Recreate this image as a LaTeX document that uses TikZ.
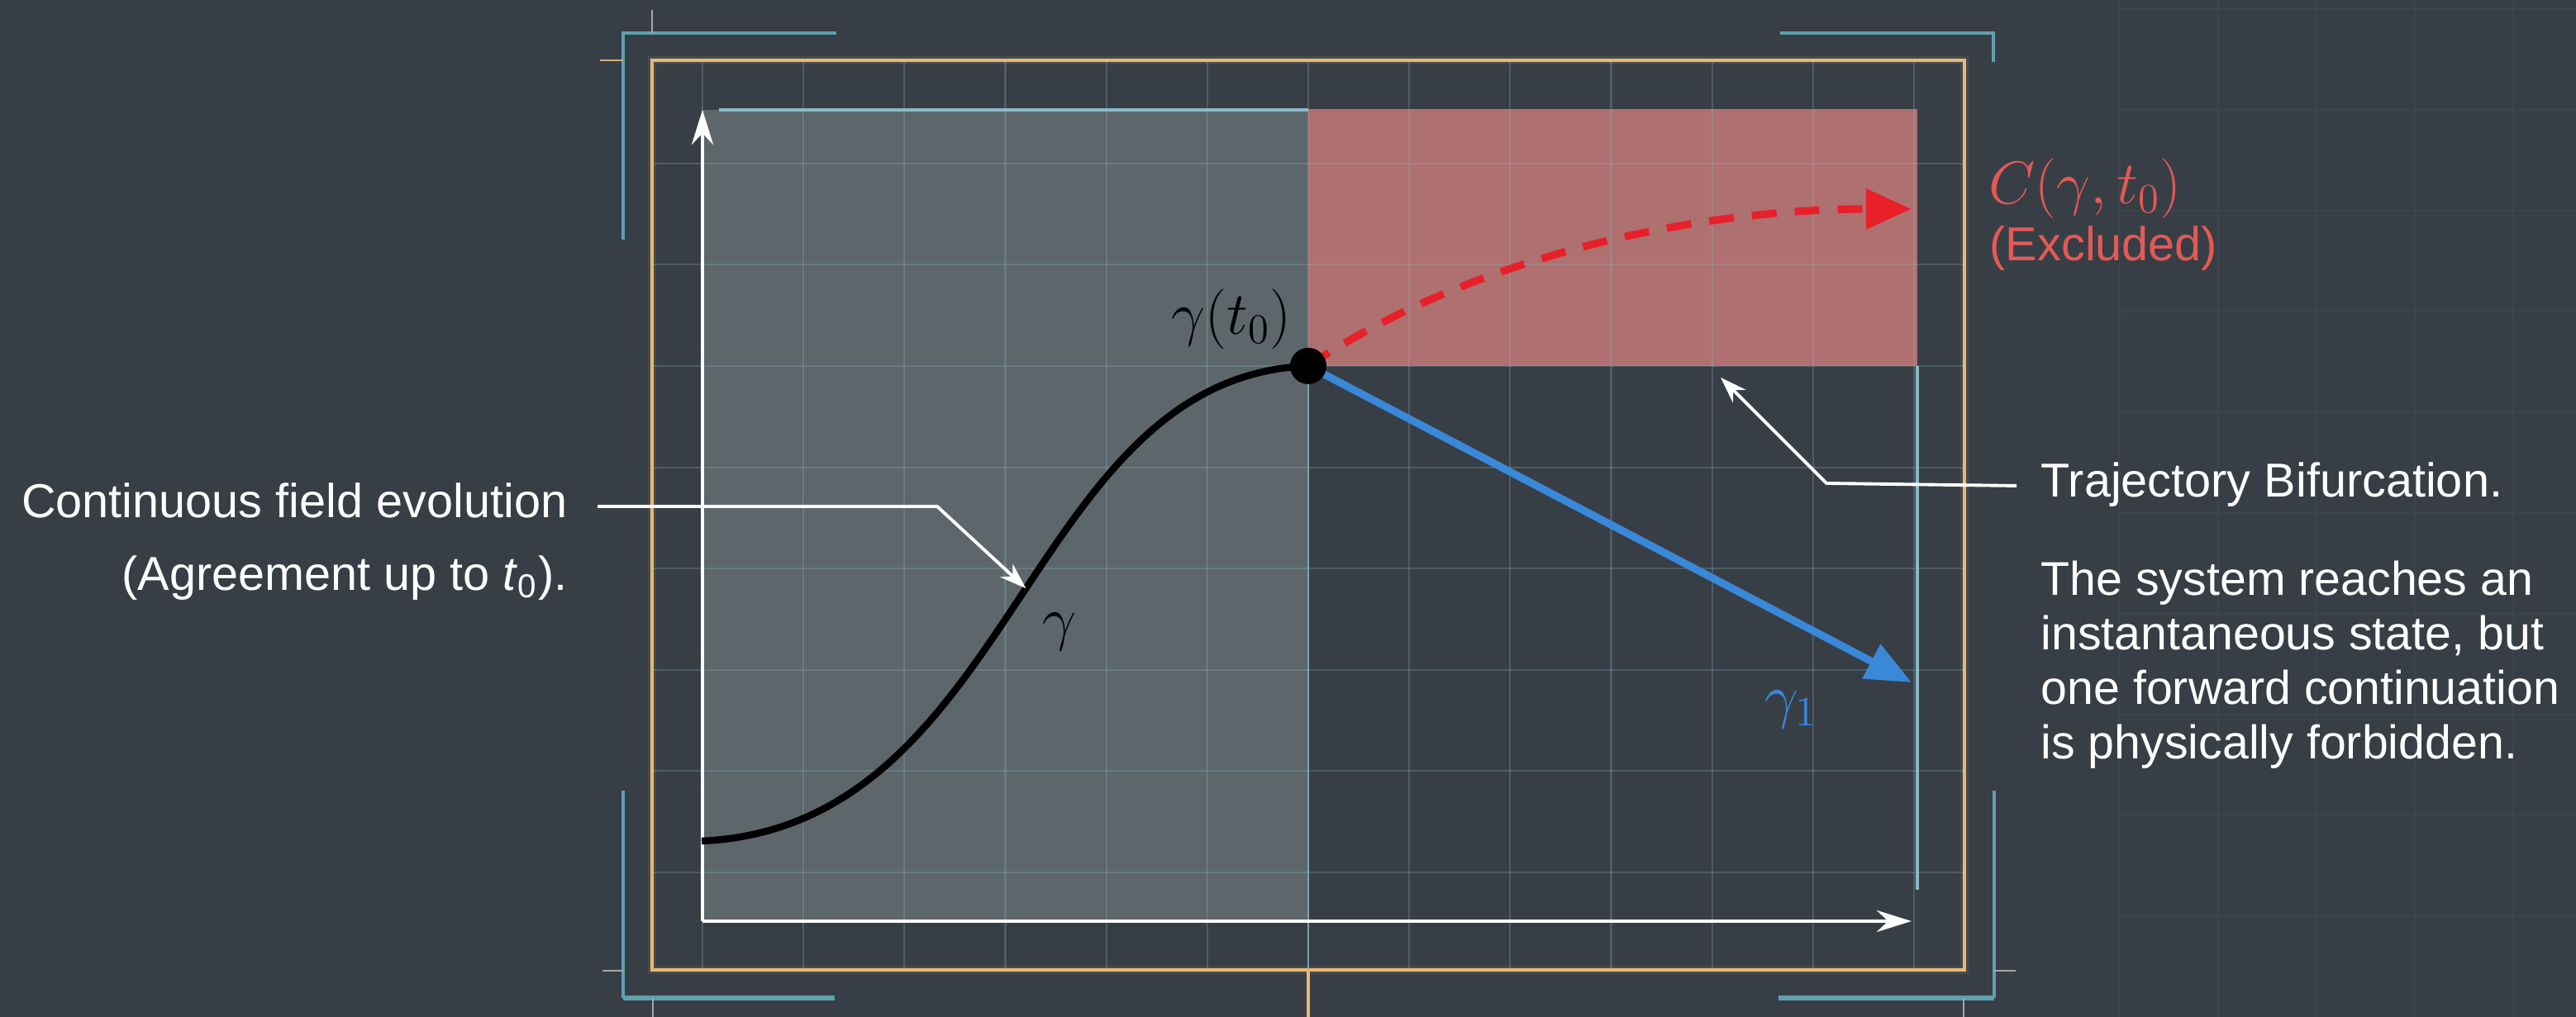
\documentclass[tikz,border=0pt]{standalone}
\usepackage{fontspec}
\setmainfont{Liberation Sans}
\usepackage{tikz}
\usetikzlibrary{arrows.meta,positioning,calc}

\definecolor{bgslate}{RGB}{56,62,70}
\definecolor{shadegray}{RGB}{92,102,107}
\definecolor{exclfill}{RGB}{175,112,112}
\definecolor{gridcyan}{RGB}{140,185,198}
\definecolor{bracketcyan}{RGB}{95,160,175}
\definecolor{frameorange}{RGB}{230,185,120}
\definecolor{dashred}{RGB}{232,32,42}
\definecolor{excltext}{RGB}{226,90,85}
\definecolor{gblue}{RGB}{58,136,216}

\newcommand{\notesize}{\fontsize{16.4}{25}\selectfont}

\begin{document}
\begin{tikzpicture}[>=Stealth,
  gridln/.style={draw=gridcyan,opacity=0.26,line width=0.6pt},
  bracket/.style={draw=bracketcyan,line width=1.1pt},
  tickmark/.style={draw=gray!70,line width=0.7pt},
  note/.style={text=white,font=\notesize,inner sep=0pt},
  mathlbl/.style={font=\huge,inner sep=1pt},
  annot/.style={draw=white,line width=1.1pt,-{Stealth[length=0.32cm,width=0.22cm]}},
  axis/.style={draw=white,line width=1.4pt,-{Stealth[length=0.42cm,width=0.26cm]}}]

  % background and frame
  \fill[bgslate] (0,0) rectangle (31.17,12.31);
  \useasboundingbox (0,0) rectangle (31.17,12.31);
  \foreach \x in {0,...,5}
    \draw[draw=gridcyan,opacity=0.05,line width=0.6pt] ({25.65+1.19*\x},0) -- ++(0,12.31);
  \foreach \y in {0,...,9}
    \draw[draw=gridcyan,opacity=0.05,line width=0.6pt] (25.65,{12.2-1.22*\y}) -- (31.17,{12.2-1.22*\y});

  \fill[shadegray] (8.50,1.16) rectangle (15.83,10.98);
  \fill[exclfill] (15.83,7.88) rectangle (23.20,10.99);

  \foreach \x in {0,...,12}
    \draw[gridln] ({8.50+1.2217*\x},0.57) -- ++(0,11.01);
  \foreach \y in {-5,...,2}
    \draw[gridln] (7.89,{7.88+1.226*\y}) -- (23.77,{7.88+1.226*\y});

  \draw[frameorange,opacity=0.1,line width=3pt] (7.89,0.57) rectangle (23.77,11.58);
  \draw[frameorange,line width=0.9pt] (7.89,0.57) rectangle (23.77,11.58);
  \draw[frameorange,line width=0.9pt] (15.83,0.57) -- (15.83,0);

  % corner brackets
  \draw[bracket] (7.54,9.41) -- (7.54,11.91) -- (10.12,11.91);
  \draw[bracket] (21.54,11.91) -- (24.12,11.91) -- (24.12,11.56);
  \draw[bracket] (7.54,2.74) -- (7.54,0.23);
  \draw[bracket] (24.13,2.74) -- (24.13,0.23);
  \draw[bracket,line width=1.8pt] (7.54,0.23) -- (10.10,0.23);
  \draw[bracket,line width=1.8pt] (21.52,0.23) -- (24.13,0.23);
  \draw[draw=frameorange!80!gray,line width=0.7pt] (7.26,11.58) -- (7.54,11.58);
  \draw[tickmark] (7.89,11.91) -- (7.89,12.19);
  \draw[tickmark] (7.29,0.56) -- (7.54,0.56);
  \draw[tickmark] (7.90,0.23) -- (7.90,0);
  \draw[tickmark] (24.13,0.56) -- (24.39,0.56);
  \draw[tickmark] (23.76,0.23) -- (23.76,0);

  % cyan guides
  \draw[draw=gridcyan,line width=1.2pt] (8.70,10.98) -- (15.83,10.98);
  \draw[draw=gridcyan,opacity=0.7,line width=0.8pt] (15.83,0.57) -- (15.83,7.88);
  \draw[draw=gridcyan,line width=0.9pt] (23.20,7.88) -- (23.20,1.54);

  % axes
  \coordinate (O) at (8.50,1.16);
  \coordinate (ytop) at (8.50,10.98);
  \coordinate (xend) at (23.13,1.16);
  \draw[axis] (O) -- (ytop);
  \draw[axis] (O) -- (xend);

  % trajectories
  \coordinate (p0) at (15.83,7.88);
  \coordinate (start) at (8.49,2.13);
  \coordinate (ctip) at (23.13,9.78);
  \coordinate (btip) at (23.13,4.05);
  \draw[black,line width=2.4pt] (start) .. controls (12.3,2.3) and (12.4,7.75) .. (p0)
    coordinate[pos=0.52] (hit);
  \draw[dashred,line width=2.6pt,dash pattern=on 0.30cm off 0.22cm,
    -{Triangle[length=0.55cm,width=0.47cm]}] (p0) .. controls (17.8,9.2) and (20.5,9.78) .. (ctip);
  \draw[gblue,line width=2.6pt,-{Triangle[length=0.55cm,width=0.45cm]}] (p0) -- (btip);
  \node[circle,fill=black,minimum size=0.44cm,inner sep=0pt] (pt) at (p0) {};

  % labels
  \node[mathlbl,anchor=south east] (ptlbl) at (pt.north west) {$\gamma(t_0)$};
  \node[mathlbl] (glbl) at (12.82,4.66) {$\gamma$};
  \node[mathlbl,text=gblue] (g1lbl) at (21.67,3.72) {$\gamma_1$};
  \node[mathlbl,text=excltext,anchor=west] (clbl) at (24.02,10.03) {$C(\gamma,t_0)$};
  \node[note,text=excltext,anchor=north west] (excl) at (24.07,9.58) {(Excluded)};

  % annotations
  \node[note,align=right,anchor=east] (lnote) at (6.87,5.75)
    {Continuous field evolution\\(Agreement up to \textit{t}\textsubscript{0}).};
  \coordinate (lstart) at (7.23,6.18);
  \coordinate (lbend) at (11.34,6.18);
  \draw[annot] (lstart) -- (lbend) -- (hit);

  \node[note,anchor=west] (bif) at (24.69,6.44) {Trajectory Bifurcation.};
  \node[note,align=left,anchor=north west,font=\fontsize{16.3}{18.8}\selectfont] (expl) at (24.69,5.53)
    {The system reaches an\\instantaneous state, but\\one forward continuation\\is physically forbidden.};
  \coordinate (rstart) at (24.40,6.43);
  \coordinate (rbend) at (22.10,6.46);
  \coordinate (rtip) at (20.82,7.74);
  \draw[annot] (rstart) -- (rbend) -- (rtip);
\end{tikzpicture}
\end{document}
